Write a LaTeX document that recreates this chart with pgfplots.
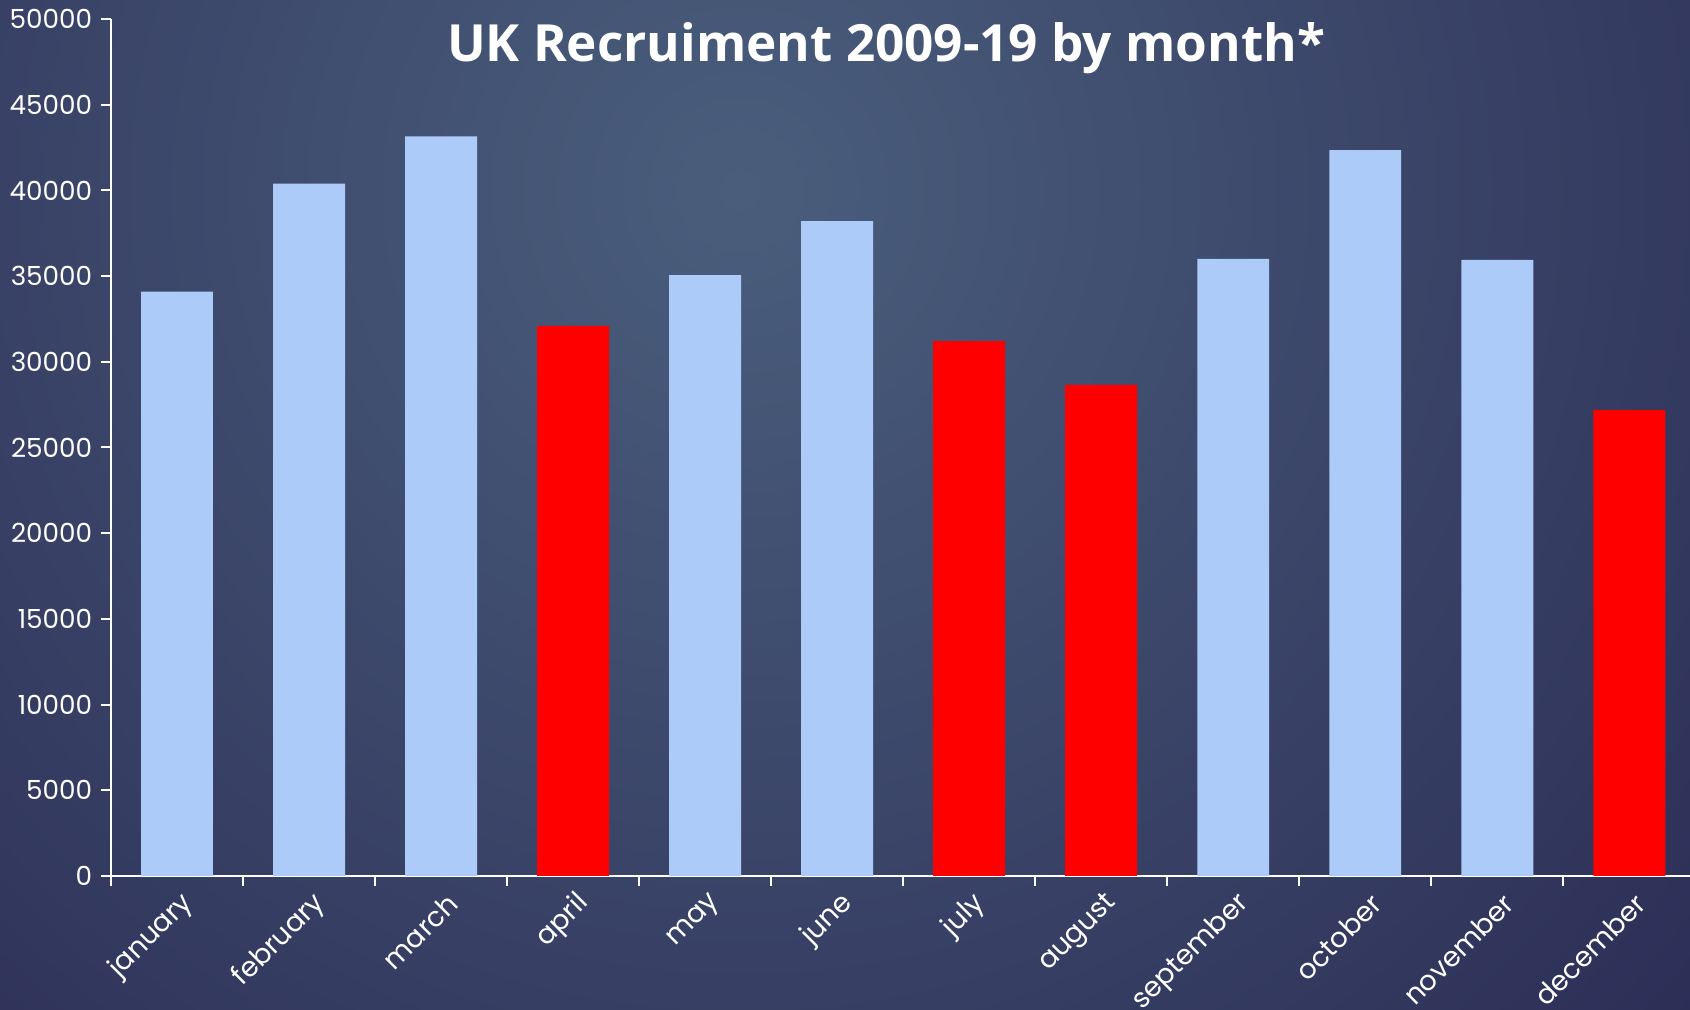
\documentclass[border=0pt]{standalone}
\usepackage{pgfplots}
\pgfplotsset{compat=1.18}
\usepackage{fontspec}
\setmainfont{Poppins}
\newfontfamily\titlefont{Open Sans}
\definecolor{barblue}{RGB}{173,203,248}
\definecolor{bgdark}{RGB}{36,33,76}
\definecolor{bglight}{RGB}{74,94,124}
\begin{document}
\begin{tikzpicture}[x=0.4pt,y=0.4pt]
\useasboundingbox (0,0) rectangle (1690,1010);
\clip (0,0) rectangle (1690,1010);
\fill[bgdark] (0,0) rectangle (1690,1010);
\shade[inner color=bglight, outer color=bgdark] (740,820) circle (1600);
\begin{axis}[
  at={(44.4pt,53.6pt)}, anchor=south west,
  scale only axis, width=631.6pt, height=342.8pt,
  xmin=-0.5, xmax=11.46, ymin=0, ymax=50000,
  axis x line*=bottom, axis y line*=left,
  axis line style={white, line width=0.8pt},
  /pgf/number format/.cd, 1000 sep={}, assume math mode=true, /pgfplots/.cd,
  scaled y ticks=false,
  ytick={0,5000,...,50000},
  xtick={0,...,11},
  xticklabels={january,february,march,april,may,june,july,august,september,october,november,december},
  minor xtick={-0.5,0.5,...,10.5},
  tick align=outside,
  major tick length=4pt, minor tick length=4pt,
  x tick style={draw=none},
  minor x tick style={draw=white, line width=0.8pt},
  y tick style={white, line width=0.8pt},
  ticklabel style={white, font=\fontsize{10.5}{12}\selectfont},
  xticklabel style={rotate=45, anchor=east, xshift=3pt, yshift=-7pt, font=\fontsize{11}{12}\selectfont},
  ybar, bar width=0.545, bar shift=0pt,
]
\addplot[fill=barblue, draw=none] coordinates {(0,34100) (1,40400) (2,43150) (4,35050) (5,38200) (8,36000) (9,42350) (10,35950)};
\addplot[fill=red, draw=none] coordinates {(3,32100) (6,31200) (7,28650) (11,27200)};
\end{axis}
\node[white, font=\titlefont\bfseries\fontsize{20.5}{24}\selectfont] at (886,962) {UK Recruiment 2009-19 by month*};
\end{tikzpicture}
\end{document}
